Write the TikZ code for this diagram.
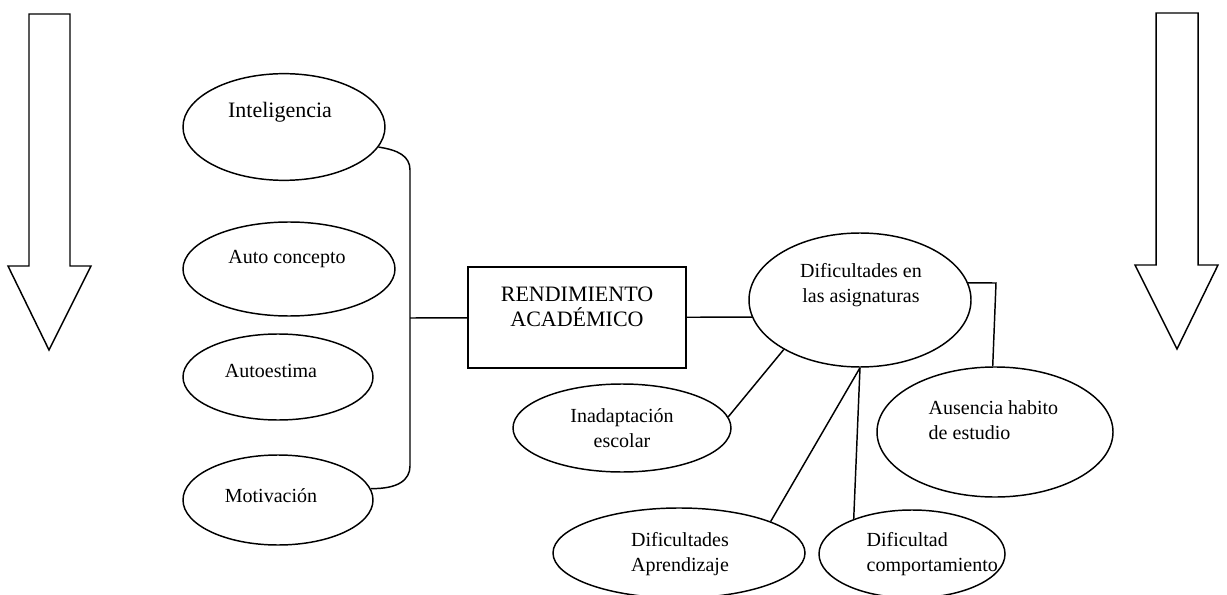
\documentclass[tikz,border=0pt]{standalone}
\usepackage{fontspec}
\setmainfont{Liberation Serif}
\usetikzlibrary{shapes.geometric}
\begin{document}
\begin{tikzpicture}[x=0.75pt,y=-0.75pt,line width=1.1pt]

  \useasboundingbox (0,0) rectangle (1227,595);

  % flechas
  \draw (29,14) -- (70,14) -- (70,266) -- (91,266) -- (49,350) -- (8,266) -- (29,266) -- cycle;
  \draw (1156,13) -- (1198,13) -- (1198,265) -- (1218,265) -- (1177,349) -- (1135,265) -- (1156,265) -- cycle;

  \begin{scope}[every node/.style={ellipse,draw,inner sep=0pt}]
    \node[minimum width=151.5pt,minimum height=80pt]   (intel)  at (284,127) {};
    \node[minimum width=159pt,minimum height=70.5pt]   (auto)   at (289,269) {};
    \node[minimum width=142.5pt,minimum height=64.5pt] (estima) at (278,377) {};
    \node[minimum width=142.5pt,minimum height=67.5pt] (motiv)  at (278,500) {};
    \node[minimum width=166.5pt,minimum height=100.5pt] (dif)   at (860,300) {};
    \node[minimum width=177pt,minimum height=97.5pt]   (aus)    at (995,432) {};
    \node[minimum width=163.5pt,minimum height=66pt]   (inad)   at (622,428) {};
    \node[minimum width=189pt,minimum height=67.5pt]   (aprend) at (679,553) {};
    \node[minimum width=139.5pt,minimum height=66pt]   (comp)   at (912,554) {};
  \end{scope}

  \node[draw,minimum width=163.5pt,minimum height=75.75pt] (rend) at (577,317.5) {};

  \begin{scope}[every node/.style={font=\fontsize{15}{18.75}\selectfont,align=center,inner sep=0pt}]
    \node[font=\fontsize{16.5}{19}\selectfont] (intel-t) at (280,112) {Inteligencia};
    \node (auto-t)   at (287,259) {Auto concepto};
    \node (estima-t) at (271,371) {Autoestima};
    \node (motiv-t)  at (271,496) {Motivación};
    \node[font=\fontsize{16.5}{18.75}\selectfont] (rend-t) at (577,307) {RENDIMIENTO\\ACADÉMICO};
    \node (dif-t)    at (861,285) {Dificultades en\\las asignaturas};
    \node[anchor=west,align=left] (aus-t) at (928,420) {Ausencia habito\\de estudio};
    \node (inad-t)   at (622,428) {Inadaptación\\escolar};
    \node (aprend-t) at (680,554) {Dificultades\\Aprendizaje};
    \node[anchor=west,align=left] (comp-t) at (866,554) {Dificultad\\comportamiento};
  \end{scope}

  \coordinate (btop)  at (410,170);
  \coordinate (bmid)  at (410,318);
  \coordinate (bbot)  at (410,466);
  \coordinate (dbend) at (996,283);

  % llave de factores
  \draw (intel.-12) .. controls (398,150) and (410,156) .. (btop) -- (bbot)
        .. controls (410,480) and (398,489) .. (motiv.7);

  \begin{scope}[every edge/.style={draw}]
    \path (bmid)      edge (rend);
    \path (rend)      edge (dif.189);
    \path (dif.213)   edge (inad.6);
    \path (dif.south) edge (aprend.19);
    \path (dif.south) edge (comp.149);
  \end{scope}

  \draw (dif.9) -- (dbend) -- (aus.92);

\end{tikzpicture}
\end{document}
